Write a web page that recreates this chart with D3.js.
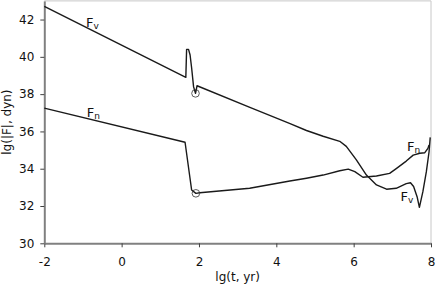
<!DOCTYPE html>
<html>
<head>
<meta charset="utf-8">
<script src="https://cdn.jsdelivr.net/npm/d3@7"></script>
<style>
  body { margin: 0; background: #fff; }
  text { font-family: "DejaVu Sans", Verdana, sans-serif; }
</style>
</head>
<body>
<div id="chart"></div>
<script>
// lg(t, yr) vs lg(|F|, dyn)
const xTicks = [-2, 0, 2, 4, 6, 8];
const yTicks = [30, 32, 34, 36, 38, 40, 42];

const fvX = [-2, 1.66, 1.68, 1.73, 1.77, 1.81, 1.86, 1.91, 1.95, 3.3, 4.34, 4.78, 5.21, 5.64, 5.81,
  6.07, 6.33, 6.59, 6.85, 7.10, 7.36, 7.47, 7.55, 7.64, 7.70, 7.79, 7.88, 7.95, 7.98];
const fvY = [42.7, 38.9, 40.4, 40.4, 40.1, 39.4, 38.4, 38.04, 38.45, 37.3, 36.43, 36.05, 35.74, 35.47, 35.2,
  34.47, 33.66, 33.13, 32.9, 32.95, 33.2, 33.25, 33.05, 32.5, 31.93, 32.77, 33.84, 34.91, 35.68];

const fnX = [-2, 1.64, 1.81, 1.92, 2.02, 3.31, 4.35, 4.78, 5.21, 5.64, 5.86, 6.03, 6.24, 6.59, 6.93,
  7.11, 7.36, 7.54, 7.71, 7.84, 7.92, 7.95];
const fnY = [37.25, 35.42, 32.86, 32.68, 32.71, 32.95, 33.34, 33.49, 33.66, 33.89, 33.98, 33.84, 33.54, 33.61, 33.75,
  34.02, 34.41, 34.73, 34.83, 34.86, 35.09, 35.27];

// open circle markers
const markX = [1.91, 1.92];
const markY = [38.04, 32.68];

// curve labels
const labels = [
  { x: -0.92, y: 41.6, sub: "v" },
  { x: -0.9, y: 36.75, sub: "n" },
  { x: 7.38, y: 34.95, sub: "n" },
  { x: 7.21, y: 32.27, sub: "v" }
];

const width = 436, height = 291;
const mLeft = 44.3, mRight = 431, mTop = 0.9, mBottom = 243.3;

const svg = d3.select("#chart").append("svg")
  .attr("width", width)
  .attr("height", height);

const x = d3.scaleLinear().domain([-2, 8]).range([mLeft, mRight]);
const y = d3.scaleLinear().domain([30, 43]).range([mBottom, mTop]);

// frame on top and right
svg.append("path")
  .attr("d", `M${mLeft},${mTop}H${mRight}V${mBottom}`)
  .attr("fill", "none")
  .attr("stroke", "#c8c8c8")
  .attr("stroke-width", 1);

// axes (plain hyphen for negatives, like the original)
const xAxis = svg.append("g")
  .attr("transform", `translate(0,${mBottom})`)
  .call(d3.axisBottom(x).tickValues(xTicks).tickFormat(d => String(d))
    .tickSize(4).tickPadding(10).tickSizeOuter(0));
const yAxis = svg.append("g")
  .attr("transform", `translate(${mLeft},0)`)
  .call(d3.axisLeft(y).tickValues(yTicks).tickFormat(d => String(d))
    .tickSize(4).tickPadding(6).tickSizeOuter(0));

[xAxis, yAxis].forEach(a => {
  a.select(".domain").attr("stroke", "#808080").attr("stroke-width", 2);
  a.selectAll(".tick line").attr("stroke", "#404040");
  a.selectAll(".tick text")
    .attr("font-size", "12px")
    .attr("fill", "#111")
    .style("font-family", "DejaVu Sans, Verdana, sans-serif");
});

// axis titles
svg.append("text")
  .attr("x", (mLeft + mRight) / 2)
  .attr("y", 281)
  .attr("text-anchor", "middle")
  .attr("font-size", "12px")
  .attr("fill", "#111")
  .text("lg(t, yr)");

svg.append("text")
  .attr("transform", `translate(11,${(mTop + mBottom) / 2}) rotate(-90)`)
  .attr("text-anchor", "middle")
  .attr("font-size", "12px")
  .attr("fill", "#111")
  .text("lg(|F|, dyn)");

// curves
const line = d3.line()
  .x(d => x(d[0]))
  .y(d => y(d[1]))
  .curve(d3.curveLinear);

const fv = d3.zip(fvX, fvY);
const fn = d3.zip(fnX, fnY);

[fv, fn].forEach(s => {
  svg.append("path")
    .datum(s)
    .attr("d", line)
    .attr("fill", "none")
    .attr("stroke", "#1a1a1a")
    .attr("stroke-width", 1.4)
    .attr("stroke-linejoin", "round");
});

svg.selectAll(".mark")
  .data(d3.zip(markX, markY))
  .enter()
  .append("circle")
  .attr("class", "mark")
  .attr("cx", d => x(d[0]))
  .attr("cy", d => y(d[1]))
  .attr("r", 3.8)
  .attr("fill", "none")
  .attr("stroke", "#333")
  .attr("stroke-width", 0.8);

// labels F_v / F_n
labels.forEach(l => {
  const t = svg.append("text")
    .attr("x", x(l.x))
    .attr("y", y(l.y))
    .attr("font-size", "13px")
    .attr("fill", "#111");
  t.append("tspan").text("F");
  t.append("tspan")
    .attr("font-size", "9px")
    .attr("dy", 2)
    .text(l.sub);
});
</script>
</body>
</html>
